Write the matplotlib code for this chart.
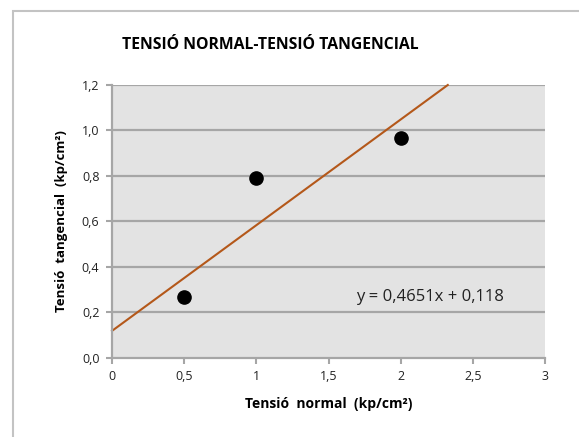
import matplotlib.pyplot as plt
from matplotlib.patches import Rectangle
from matplotlib.ticker import FixedLocator
import numpy as np

plt.rcParams['font.family'] = ['Open Sans', 'DejaVu Sans']

# dades
tensio_normal = [0.5, 1.0, 2.0]
tensio_tangencial = [0.267, 0.791, 0.967]
pendent = 0.4651
ordenada = 0.118
x_ticks = [0, 0.5, 1, 1.5, 2, 2.5, 3]
x_tick_labels = ['0', '0,5', '1', '1,5', '2', '2,5', '3']
y_ticks = [0.0, 0.2, 0.4, 0.6, 0.8, 1.0, 1.2]
y_tick_labels = ['0,0', '0,2', '0,4', '0,6', '0,8', '1,0', '1,2']

W, H = 579, 437
fig = plt.figure(figsize=(W / 100, H / 100), dpi=100)
ax = fig.add_axes([112 / W, 1 - 357.7 / H, (545 - 112) / W, (357.7 - 85) / H])

# marc del grafic
fig.patches.append(Rectangle((13 / W, -0.05), 1.1, 1 - 11 / H + 0.05,
                             transform=fig.transFigure, fill=False,
                             edgecolor='#c3c3c3', linewidth=1.5))

ax.set_facecolor('#e3e3e3')
ax.set_xlim(0, 3)
ax.set_ylim(0, 1.2)

for y in y_ticks[1:]:
    ax.axhline(y, color='#a6a6a6', linewidth=1.6, zorder=1)

# recta de regressio
x_fi = (1.2 - ordenada) / pendent
xs = np.array([0, x_fi])
ax.plot(xs, pendent * xs + ordenada, color='#b4581a', linewidth=1.5, zorder=2,
        clip_on=False)

ax.plot(tensio_normal, tensio_tangencial, 'o', color='black', markersize=9.5, zorder=3)

ax.text(2.2, 0.265, 'y = 0,4651x + 0,118', fontsize=12, color='#222222',
        ha='center', va='center')

ax.xaxis.set_major_locator(FixedLocator(x_ticks))
ax.set_xticklabels(x_tick_labels)
ax.yaxis.set_major_locator(FixedLocator(y_ticks))
ax.set_yticklabels(y_tick_labels)
ax.tick_params(axis='both', direction='out', length=4, width=1.5, color='#a6a6a6',
               labelsize=9, labelcolor='#222222', pad=5)

for s in ['top', 'right']:
    ax.spines[s].set_visible(False)
for s in ['left', 'bottom']:
    ax.spines[s].set_color('#a6a6a6')
    ax.spines[s].set_linewidth(1.6)

ax.set_xlabel('Tensió  normal  (kp/cm²)', fontsize=10, fontweight='bold', labelpad=10)
ax.set_ylabel('Tensió  tangencial  (kp/cm²)', fontsize=9.5, fontweight='bold', labelpad=10)

fig.text(270 / W, 1 - 45 / H, 'TENSIÓ NORMAL-TENSIÓ TANGENCIAL', fontsize=11.3,
         fontweight='bold', ha='center', va='center')

fig.savefig('out.png', dpi=100)
